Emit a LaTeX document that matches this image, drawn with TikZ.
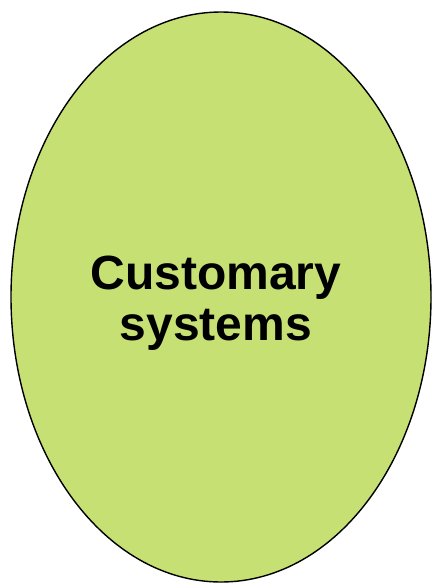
\documentclass[tikz,border=0pt]{standalone}
\usepackage{fontspec}
\setmainfont{Liberation Sans}
\usetikzlibrary{shapes.geometric}
\definecolor{ellgreen}{RGB}{199,224,116}
\begin{document}
\begin{tikzpicture}[x=1pt,y=-1pt,
  blob/.style={draw=black,line width=1.4pt,fill=ellgreen},
  lbl/.style={font=\fontsize{48}{51}\selectfont\bfseries,align=center,inner sep=0pt}]
\useasboundingbox (0,0) rectangle (432,584);
\fill[white] (0,0) rectangle (432,584);
\node[blob,ellipse,minimum width=420pt,minimum height=570pt,inner sep=0pt] (e) at (221,297) {};
\node[lbl,anchor=base] (t) at (216,340) {Customary\\ systems};
\end{tikzpicture}
\end{document}
